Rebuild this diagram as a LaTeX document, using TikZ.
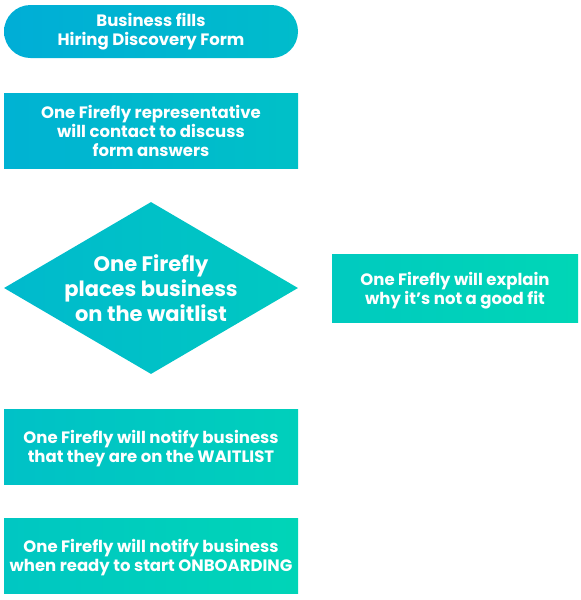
\documentclass[tikz,border=0pt]{standalone}
\usepackage{fontspec}
\setmainfont{Poppins}
\usetikzlibrary{shapes.geometric}

\definecolor{flyblue}{RGB}{0,172,216}
\definecolor{flyteal}{RGB}{0,214,182}

\tikzset{
  flybox/.style={rectangle, inner sep=0pt, text=white, align=center,
    font=\bfseries\fontsize{16.5}{19}\selectfont, shading angle=90},
  flydiamond/.style={diamond, inner sep=0pt, text=white, align=center,
    font=\bfseries\fontsize{21}{25}\selectfont, shading angle=90,
    shape aspect=1.71},
  lowtext/.style={text depth=-3.5pt}
}

\begin{document}
\begin{tikzpicture}[x=1pt, y=-1pt]
        % Define Variables
        \def\lX{151}
        \def\rX{455}
        \def\bW{294}
        \def\bH{75}

        \useasboundingbox (0,0) rectangle (581,600);

        % Left Column
        \node[flybox, rounded corners=26.5pt, minimum width=\bW pt, minimum height=53pt,
              left color=flyteal!4!flyblue, right color=flyteal!38!flyblue]
              (fill-form) at (\lX, 31.5) {Business fills\\Hiring Discovery Form};
        \node[flybox, minimum width=\bW pt, minimum height=\bH pt,
              left color=flyteal!15!flyblue, right color=flyteal!49!flyblue]
              (contact) at (\lX, 130.5) {One Firefly representative\\will contact to discuss\\form answers};
        \node[flydiamond, minimum width=\bW pt, minimum height=172pt,
              left color=flyteal!32!flyblue, right color=flyteal!68!flyblue]
              (waitlist) at (\lX, 288) {One Firefly\\places business\\on the waitlist};
        \node[flybox, lowtext, minimum width=\bW pt, minimum height=\bH pt,
              left color=flyteal!50!flyblue, right color=flyteal!85!flyblue]
              (notify-wait) at (\lX, 446.5) {One Firefly will notify business\\that they are on the WAITLIST};
        \node[flybox, lowtext, minimum width=\bW pt, minimum height=\bH pt,
              left color=flyteal!64!flyblue, right color=flyteal!97!flyblue]
              (notify-onboard) at (\lX, 555.5) {One Firefly will notify business\\when ready to start ONBOARDING};

        % Right Column
        \node[flybox, lowtext, minimum width=246pt, minimum height=68pt,
              left color=flyteal!72!flyblue, right color=flyteal]
              (no-fit) at (\rX, 288) {One Firefly will explain\\why it’s not a good fit};
\end{tikzpicture}
\end{document}
